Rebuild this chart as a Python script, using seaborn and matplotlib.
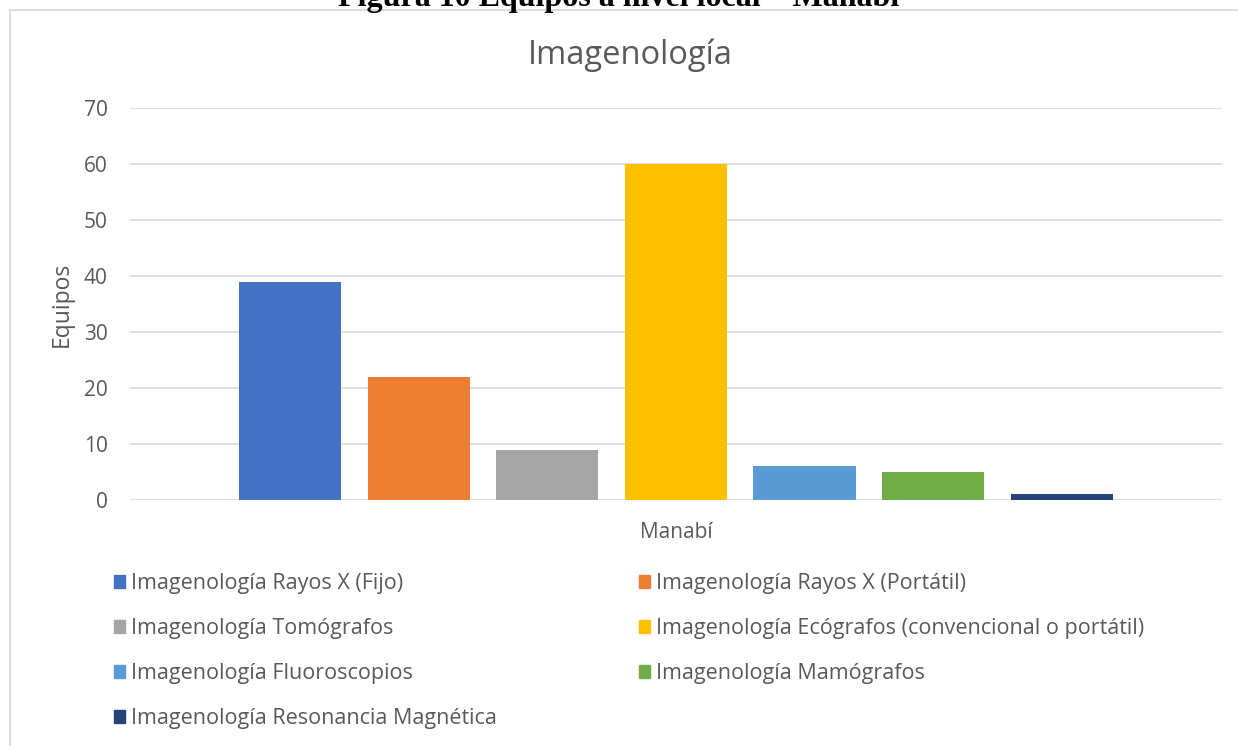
import pandas as pd
import matplotlib.pyplot as plt
from matplotlib.patches import Rectangle
import seaborn as sns

sns.set_style('white')
plt.rcParams['font.family'] = ['Open Sans', 'DejaVu Sans']

region = ['Manabí']
tipos = ['Imagenología Rayos X (Fijo)', 'Imagenología Rayos X (Portátil)',
         'Imagenología Tomógrafos', 'Imagenología Ecógrafos (convencional o portátil)',
         'Imagenología Fluoroscopios', 'Imagenología Mamógrafos',
         'Imagenología Resonancia Magnética']
equipos = [39, 22, 9, 60, 6, 5, 1]
colores = ['#4472C4', '#ED7D31', '#A5A5A5', '#FFC000', '#5B9BD5', '#70AD47', '#264478']
y_ticks = [0, 10, 20, 30, 40, 50, 60, 70]

df = pd.DataFrame({'region': region * len(tipos), 'tipo': tipos, 'equipos': equipos})

txt = '#595959'
fig = plt.figure(figsize=(12.38, 7.46), dpi=100)
ax = fig.add_axes([0.105, 0.3298, 0.882, 0.5254])

sns.barplot(data=df, x='region', y='equipos', hue='tipo', hue_order=tipos,
            palette=colores, width=0.824, gap=0.206, saturation=1, linewidth=0,
            ax=ax, legend=False)

ax.set_ylim(0, 70)
ax.set_xlim(-0.5, 0.5)
ax.set_yticks(y_ticks)
ax.yaxis.grid(True, color='#D9D9D9', lw=1.2)
ax.set_axisbelow(True)
for s in ax.spines.values():
    s.set_visible(False)
ax.tick_params(axis='both', length=0, labelsize=15, labelcolor=txt, pad=16)
ax.tick_params(axis='x', labelbottom=False)
ax.set_xlabel('Manabí', fontsize=15, color=txt, labelpad=16)
ax.set_ylabel('Equipos', fontsize=16.5, color=txt, labelpad=7)
fig.text(630 / 1238, 1 - 55 / 746, 'Imagenología', ha='center', va='center',
         fontsize=23.5, color=txt)

# legend in row order like the original (two columns)
handles = [Rectangle((0, 0), 1, 1, color=c) for c in colores]
order = [0, 2, 4, 6, 1, 3, 5]
fig.legend([handles[i] for i in order], [tipos[i] for i in order],
           ncol=2, loc='upper left', bbox_to_anchor=(0.0765, 0.258), frameon=False,
           fontsize=15.5, labelcolor=txt, handlelength=0.52, handleheight=0.52,
           handletextpad=0.27, labelspacing=1.12, columnspacing=6.6)

# chart border and cropped caption
fig.patches.append(Rectangle((10 / 1238, -0.1), 1.2, 1 - 10 / 746 + 0.1, transform=fig.transFigure,
                             fill=False, edgecolor='#D9D9D9', lw=1.3))
fig.text(0.5, 1 - 6 / 746, 'Figura 10 Equipos a nivel local – Manabí', ha='center', va='baseline',
         fontsize=23, fontweight='bold', family=['Liberation Serif'], color='black')

fig.savefig('out.png', dpi=100)
